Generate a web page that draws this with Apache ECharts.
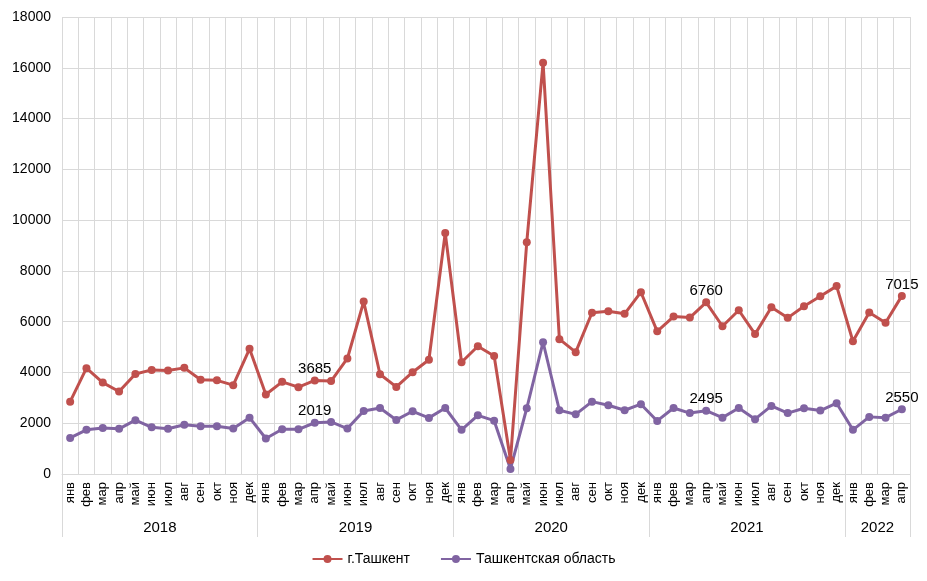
<!DOCTYPE html>
<html><head><meta charset="utf-8">
<script src="https://cdn.jsdelivr.net/npm/echarts@6/dist/echarts.min.js"></script>
<style>html,body{margin:0;padding:0;background:#fff}#c{width:927px;height:581px}</style>
</head><body><div id="c"></div>
<script>
const months = ['янв','фев','мар','апр','май','июн','июл','авг','сен','окт','ноя','дек'];
const years = ['2018','2019','2020','2021','2022'];
const monthsPerYear = [12,12,12,12,4];
const tashkentCity = [2850,4170,3600,3250,3940,4100,4080,4180,3710,3690,3500,4930,
  3130,3630,3420,3685,3660,4550,6790,3930,3430,4010,4500,9490,
  4400,5030,4650,550,9130,16200,5310,4800,6350,6410,6310,7160,
  5620,6200,6160,6760,5820,6450,5510,6570,6150,6610,7000,7400,
  5230,6360,5960,7015];
const tashkentRegion = [1420,1740,1810,1780,2120,1840,1780,1940,1880,1880,1790,2220,
  1400,1760,1760,2019,2050,1790,2480,2600,2130,2470,2210,2600,
  1740,2310,2100,200,2590,5190,2510,2350,2850,2710,2510,2750,
  2090,2600,2400,2495,2220,2600,2160,2680,2400,2590,2500,2790,
  1740,2250,2220,2550];
const labelledIdx = [15, 39, 51];
const seriesNames = ['г.Ташкент','Ташкентская область'];

const cats = [];
monthsPerYear.forEach((n) => { for (let i = 0; i < n; i++) cats.push(months[i]); });
const bounds = [0]; monthsPerYear.forEach(n => bounds.push(bounds[bounds.length-1] + n));
const centers = monthsPerYear.map((n, i) => bounds[i] + n / 2);

const font = 'Liberation Sans, Arial, sans-serif';
const narrow = 'Liberation Sans Narrow, Arial Narrow, Liberation Sans, Arial, sans-serif';
function mk(arr){
  return arr.map((v,i)=> labelledIdx.includes(i) ? {value:v, label:{show:true}} : v);
}
const chart = echarts.init(document.getElementById('c'), null, {renderer:'canvas'});
chart.setOption({
  animation:false,
  grid:{left:62, right:17, top:17, bottom:107},
  legend:{bottom:10, left:'center', itemWidth:30, itemHeight:10, itemGap:30,
    textStyle:{fontFamily:narrow, fontSize:14, color:'#000'},
    data:seriesNames},
  xAxis:[{
    type:'category', data:cats, boundaryGap:true,
    axisLine:{lineStyle:{color:'#d9d9d9'}},
    axisTick:{show:false},
    splitLine:{show:true, interval:0, lineStyle:{color:'#d9d9d9'}},
    axisLabel:{interval:0, rotate:90, fontFamily:font, fontSize:13, color:'#000', margin:8}
  },{
    type:'value', min:0, max:bounds[bounds.length-1], position:'bottom',
    axisLine:{show:false},
    splitLine:{show:false},
    axisTick:{show:true, length:63, inside:false, customValues:bounds, lineStyle:{color:'#d9d9d9'}},
    axisLabel:{show:true, customValues:centers, margin:46, fontFamily:narrow, fontSize:15, color:'#000',
      formatter:(v)=>{ const k = centers.indexOf(v); return k>=0 ? years[k] : ''; }}
  }],
  yAxis:{type:'value', min:0, max:18000, interval:2000,
    axisLine:{show:false}, axisTick:{show:false},
    splitLine:{lineStyle:{color:'#d9d9d9'}},
    axisLabel:{fontFamily:font, fontSize:14, color:'#000', margin:11, formatter:(v)=>String(v)}},
  series:[{
    name:seriesNames[0], type:'line', data:mk(tashkentCity), xAxisIndex:0,
    symbol:'circle', symbolSize:8,
    lineStyle:{width:3, color:'#C0504D'}, itemStyle:{color:'#C0504D'},
    label:{show:false, position:'top', distance:0, fontFamily:font, fontSize:15, color:'#000'}
  },{
    name:seriesNames[1], type:'line', data:mk(tashkentRegion), xAxisIndex:0,
    symbol:'circle', symbolSize:8,
    lineStyle:{width:3, color:'#8064A2'}, itemStyle:{color:'#8064A2'},
    label:{show:false, position:'top', distance:0, fontFamily:font, fontSize:15, color:'#000'}
  }]
});
</script></body></html>
